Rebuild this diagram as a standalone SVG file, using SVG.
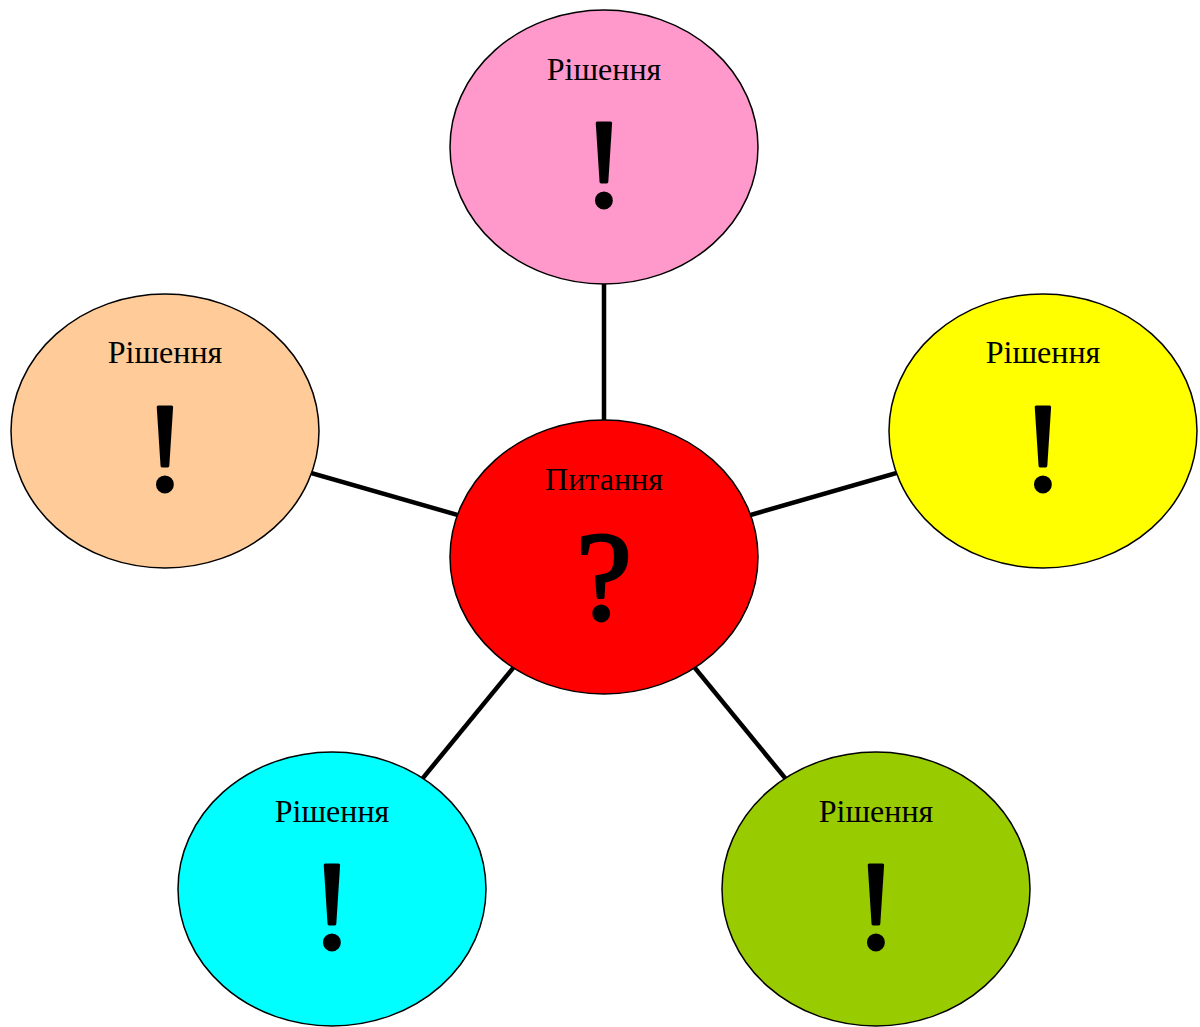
<svg xmlns="http://www.w3.org/2000/svg" width="1200" height="1027" viewBox="0 0 1200 1027">
<style>
.n{stroke:#000;stroke-width:1.5}
.c{stroke:#000;stroke-width:4.5;fill:none}
.t{font-family:"Liberation Serif","Times New Roman",serif;font-size:32px;text-anchor:middle;fill:#000}
.b{font-family:"Liberation Serif","Times New Roman",serif;font-size:126px;text-anchor:middle;fill:#000;stroke:#000;stroke-width:3;stroke-linejoin:round}
</style>
<rect width="1200" height="1027" fill="#fff"/>
<g id="connectors">
<line class="c" x1="604" y1="557" x2="604" y2="147"/>
<line class="c" x1="604" y1="557" x2="165" y2="431"/>
<line class="c" x1="604" y1="557" x2="1043" y2="431"/>
<line class="c" x1="604" y1="557" x2="332" y2="889"/>
<line class="c" x1="604" y1="557" x2="876" y2="889"/>
</g>
<g id="top">
<ellipse class="n" cx="604" cy="147" rx="154" ry="137" fill="#FF99CC"/>
<text class="t" x="604" y="80">Рішення</text>
<text class="b" x="604" y="206">!</text>
</g>
<g id="left">
<ellipse class="n" cx="165" cy="431" rx="154" ry="137" fill="#FFCC99"/>
<text class="t" x="165" y="363">Рішення</text>
<text class="b" x="165" y="490">!</text>
</g>
<g id="right">
<ellipse class="n" cx="1043" cy="431" rx="154" ry="137" fill="#FFFF00"/>
<text class="t" x="1043" y="363">Рішення</text>
<text class="b" x="1043" y="490">!</text>
</g>
<g id="bottom-left">
<ellipse class="n" cx="332" cy="889" rx="154" ry="137" fill="#00FFFF"/>
<text class="t" x="332" y="822">Рішення</text>
<text class="b" x="332" y="948">!</text>
</g>
<g id="bottom-right">
<ellipse class="n" cx="876" cy="889" rx="154" ry="137" fill="#99CC00"/>
<text class="t" x="876" y="822">Рішення</text>
<text class="b" x="876" y="948">!</text>
</g>
<g id="center">
<ellipse class="n" cx="604" cy="557" rx="154" ry="137" fill="#FF0000"/>
<text class="t" x="604" y="490">Питання</text>
<text class="b" x="604" y="619">?</text>
</g>
</svg>
